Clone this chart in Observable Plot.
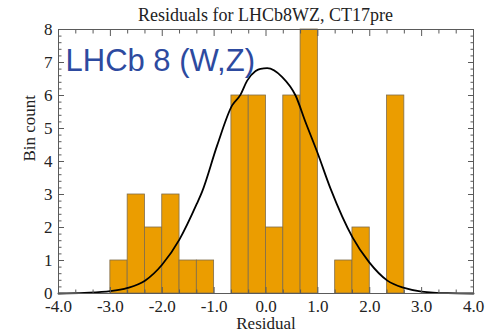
<!DOCTYPE html>
<html>
<head>
<meta charset="utf-8">
<script src="https://cdn.jsdelivr.net/npm/d3@7"></script>
<script src="https://cdn.jsdelivr.net/npm/@observablehq/plot@0.6"></script>
<style>
  html, body { margin: 0; padding: 0; background: #fff; }
  #title { font-family: "Liberation Serif", serif; font-size: 18px; line-height: 24px; height: 24px;
           padding-top: 3px; margin-left: 58px; width: 415px; text-align: center; color: #222; white-space: nowrap; }
</style>
</head>
<body>
<div id="title"></div>
<div id="chart"></div>
<script>
const titleText = "Residuals for LHCb8WZ, CT17pre";
const insetLabel = "LHCb 8 (W,Z)";
const xTitle = "Residual";
const yTitle = "Bin count";

// histogram bin edges (width 1/3) and counts
const binEdges = [-3, -8/3, -7/3, -2, -5/3, -4/3, -1, -2/3, -1/3, 0, 1/3, 2/3, 1, 4/3, 5/3, 2, 7/3, 8/3];
const binCounts = [1, 3, 2, 3, 1, 1, 0, 6, 6, 2, 6, 8, 0, 1, 2, 0, 6];

// fitted curve
const curveX = [-4.0, -3.5, -3.0, -2.667, -2.333, -2.0, -1.667, -1.333, -1.233, -0.943, -0.653, -0.493, -0.363, -0.2, -0.106, 0.023, 0.313, 0.57, 0.763, 0.989, 1.246, 1.665, 1.987, 2.34, 2.663, 3.0, 3.5, 4.0];
const curveY = [0.0, 0.02, 0.07, 0.17, 0.39, 0.88, 1.64, 2.72, 3.08, 4.48, 5.70, 6.02, 6.45, 6.74, 6.81, 6.83, 6.56, 6.0, 5.19, 4.28, 3.17, 1.71, 0.95, 0.39, 0.17, 0.06, 0.01, 0.0];

const xTickLabels = [-4, -3, -2, -1, 0, 1, 2, 3, 4];
const xMinorTicks = d3.range(-12, 13).map(k => k / 3).filter(v => Math.abs(v - Math.round(v)) > 1e-6);
const yTickLabels = [0, 1, 2, 3, 4, 5, 6, 7, 8];
const yMinorTicks = d3.range(0, 41).map(k => k / 5).filter(v => Math.abs(v - Math.round(v)) > 1e-6);

document.getElementById("title").textContent = titleText;

const bins = binCounts.map((c, i) => ({x1: binEdges[i], x2: binEdges[i + 1], count: c})).filter(d => d.count > 0);
const curve = curveX.map((x, i) => ({x, y: curveY[i]}));

const serif = "Liberation Serif, Times New Roman, serif";
const frameColor = "#5a5a5a";

const chart = Plot.plot({
  width: 491,
  height: 306,
  marginLeft: 58,
  marginRight: 18,
  marginTop: 2,
  marginBottom: 40,
  style: {fontFamily: serif, background: "#fff", overflow: "visible"},
  x: {domain: [-4, 4], axis: null},
  y: {domain: [0, 8], axis: null},
  marks: [
    Plot.rectY(bins, {x1: "x1", x2: "x2", y: "count", fill: "#eb9d00", stroke: "#7f6d4c", strokeWidth: 0.8}),
    Plot.line(curve, {x: "x", y: "y", curve: "monotone-x", stroke: "#000", strokeWidth: 1.8}),
    Plot.frame({stroke: frameColor, strokeWidth: 1}),
    // inward ticks, all four sides
    Plot.axisX(xTickLabels, {anchor: "bottom", tickSize: -6, tickFormat: () => "", label: null, stroke: frameColor}),
    Plot.axisX(xMinorTicks, {anchor: "bottom", tickSize: -3.5, tickFormat: () => "", label: null, stroke: frameColor}),
    Plot.axisX(xTickLabels, {anchor: "top", tickSize: -6, tickFormat: () => "", label: null, stroke: frameColor}),
    Plot.axisX(xMinorTicks, {anchor: "top", tickSize: -3.5, tickFormat: () => "", label: null, stroke: frameColor}),
    Plot.axisY(yTickLabels, {anchor: "left", tickSize: -6, tickFormat: () => "", label: null, stroke: frameColor}),
    Plot.axisY(yMinorTicks, {anchor: "left", tickSize: -3.5, tickFormat: () => "", label: null, stroke: frameColor}),
    Plot.axisY(yTickLabels, {anchor: "right", tickSize: -6, tickFormat: () => "", label: null, stroke: frameColor}),
    Plot.axisY(yMinorTicks, {anchor: "right", tickSize: -3.5, tickFormat: () => "", label: null, stroke: frameColor}),
    // tick labels
    Plot.axisX(xTickLabels, {anchor: "bottom", tickSize: 0, tickPadding: 6, tickFormat: d => d.toFixed(1), label: null, fontSize: 17, fontFamily: serif, fill: "#222"}),
    Plot.axisY(yTickLabels, {anchor: "left", tickSize: 0, tickPadding: 6, tickFormat: d => String(d), label: null, fontSize: 17, fontFamily: serif, fill: "#222"}),
    // axis titles
    Plot.text([xTitle], {frameAnchor: "bottom", text: d => d, dy: 35, fontSize: 17, fontFamily: serif, fill: "#222", lineAnchor: "bottom"}),
    Plot.text([yTitle], {frameAnchor: "left", text: d => d, dx: -29, rotate: -90, fontSize: 17, fontFamily: serif, fill: "#222"}),
    // inset label
    Plot.text([insetLabel], {frameAnchor: "top-left", text: d => d, dx: 7, dy: 41, textAnchor: "start", lineAnchor: "bottom",
      fontSize: 31, fontFamily: "Liberation Sans, Arial, sans-serif", fill: "#2d4a9f"})
  ]
});
document.getElementById("chart").appendChild(chart);
</script>
</body>
</html>
